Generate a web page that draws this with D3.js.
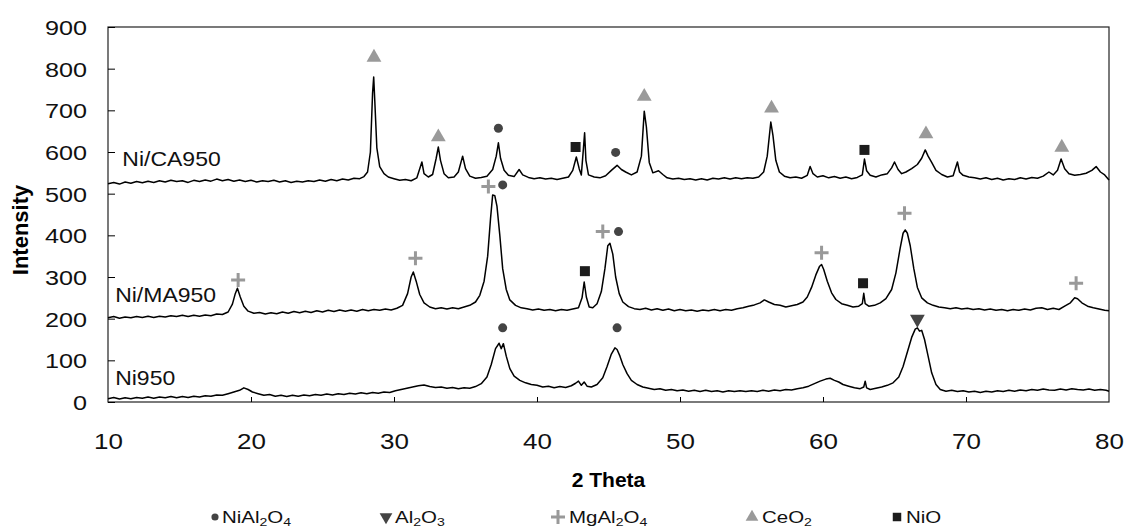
<!DOCTYPE html>
<html>
<head>
<meta charset="utf-8">
<script src="https://cdn.jsdelivr.net/npm/d3@7"></script>
<style>
  body { margin: 0; background: #fff; }
  svg { display: block; font-family: "Liberation Sans", Arial, sans-serif; }
</style>
</head>
<body>
<div id="chart"></div>
<script>
// XRD traces, [2 theta, intensity]
const niCA950 = [[10.0,524],[10.4,527],[10.8,523],[11.2,528],[11.6,525],[12.0,529],[12.4,526],[12.8,530],[13.2,527],[13.6,531],[14.0,528],[14.4,532],[14.8,529],[15.2,531],[15.6,527],[16.0,532],[16.4,529],[16.8,533],[17.2,530],[17.6,535],[18.0,531],[18.4,534],[18.8,530],[19.2,533],[19.6,529],[20.0,532],[20.4,528],[20.8,531],[21.2,529],[21.6,532],[22.0,528],[22.4,531],[22.8,527],[23.2,530],[23.6,528],[24.0,531],[24.4,529],[24.8,533],[25.2,530],[25.6,534],[26.0,531],[26.4,535],[26.8,533],[27.2,537],[27.6,536],[27.9,541],[28.15,552],[28.35,600],[28.5,740],[28.58,780],[28.66,720],[28.8,610],[29.0,565],[29.3,548],[29.6,540],[30.0,536],[30.4,532],[30.8,534],[31.2,531],[31.6,538],[31.95,576],[32.1,548],[32.4,540],[32.7,546],[32.95,585],[33.1,612],[33.25,580],[33.5,548],[33.8,538],[34.2,540],[34.5,552],[34.8,590],[35.0,560],[35.3,542],[35.7,537],[36.1,539],[36.5,542],[36.9,558],[37.15,590],[37.3,622],[37.45,585],[37.7,556],[38.0,544],[38.4,541],[38.75,558],[39.0,545],[39.4,539],[39.8,536],[40.2,538],[40.6,535],[41.0,537],[41.4,534],[41.8,537],[42.2,540],[42.5,556],[42.75,588],[42.95,560],[43.1,545],[43.25,610],[43.33,646],[43.42,580],[43.6,545],[44.0,540],[44.4,538],[44.8,543],[45.2,556],[45.6,568],[45.9,558],[46.2,552],[46.6,545],[47.0,552],[47.3,590],[47.5,698],[47.65,660],[47.85,575],[48.1,550],[48.5,555],[48.8,546],[49.1,538],[49.5,535],[49.9,537],[50.3,534],[50.7,536],[51.1,533],[51.5,536],[51.9,533],[52.3,537],[52.7,535],[53.1,538],[53.5,535],[53.9,538],[54.3,536],[54.7,538],[55.1,537],[55.5,540],[55.85,552],[56.1,590],[56.35,672],[56.5,640],[56.7,580],[56.95,552],[57.3,542],[57.7,538],[58.1,540],[58.5,537],[58.9,544],[59.1,565],[59.3,548],[59.6,540],[60.0,543],[60.4,538],[60.8,541],[61.2,537],[61.6,540],[62.0,536],[62.4,539],[62.75,545],[62.9,583],[63.05,555],[63.3,544],[63.7,540],[64.1,545],[64.5,548],[64.8,562],[65.0,576],[65.25,558],[65.5,548],[65.8,552],[66.2,560],[66.6,570],[66.9,585],[67.15,605],[67.35,590],[67.6,575],[67.9,556],[68.3,546],[68.7,540],[69.1,543],[69.4,576],[69.55,552],[69.8,544],[70.2,540],[70.6,538],[71.0,535],[71.4,538],[71.8,534],[72.2,537],[72.6,533],[73.0,536],[73.4,534],[73.8,538],[74.2,535],[74.6,539],[75.0,537],[75.4,542],[75.8,552],[76.1,545],[76.4,556],[76.65,583],[76.9,560],[77.2,548],[77.6,544],[78.0,546],[78.4,549],[78.8,556],[79.1,565],[79.4,552],[79.7,545],[80.0,533]];

const niMA950 = [[10.0,202],[10.4,205],[10.8,201],[11.2,204],[11.6,202],[12.0,205],[12.4,203],[12.8,206],[13.2,203],[13.6,206],[14.0,204],[14.4,207],[14.8,205],[15.2,208],[15.6,205],[16.0,208],[16.4,206],[16.8,209],[17.2,207],[17.6,211],[18.0,210],[18.4,216],[18.7,235],[18.9,260],[19.05,273],[19.25,252],[19.5,230],[19.8,218],[20.2,213],[20.6,215],[21.0,211],[21.4,214],[21.8,212],[22.2,216],[22.6,213],[23.0,217],[23.4,214],[23.8,218],[24.2,215],[24.6,219],[25.0,216],[25.4,220],[25.8,217],[26.2,221],[26.6,218],[27.0,221],[27.4,218],[27.8,222],[28.2,219],[28.6,222],[29.0,220],[29.4,223],[29.8,221],[30.2,225],[30.6,232],[30.95,260],[31.2,300],[31.35,312],[31.55,290],[31.8,258],[32.1,238],[32.5,228],[32.9,224],[33.3,226],[33.7,223],[34.1,226],[34.5,224],[34.9,228],[35.3,232],[35.7,240],[36.0,256],[36.3,290],[36.55,350],[36.75,440],[36.9,497],[37.05,495],[37.2,470],[37.4,400],[37.6,320],[37.85,270],[38.1,245],[38.5,232],[38.9,226],[39.3,224],[39.7,221],[40.1,223],[40.5,220],[40.9,222],[41.3,219],[41.7,222],[42.1,220],[42.5,223],[42.9,226],[43.15,250],[43.3,288],[43.45,252],[43.65,228],[43.9,226],[44.2,236],[44.5,265],[44.75,320],[44.95,375],[45.1,381],[45.3,355],[45.5,300],[45.75,260],[46.0,240],[46.4,229],[46.8,224],[47.2,222],[47.6,225],[48.0,221],[48.4,224],[48.8,220],[49.2,223],[49.6,219],[50.0,222],[50.4,219],[50.8,221],[51.2,218],[51.6,221],[52.0,219],[52.4,222],[52.8,219],[53.2,222],[53.6,220],[54.0,224],[54.4,226],[54.8,230],[55.2,233],[55.6,238],[55.9,245],[56.2,240],[56.6,234],[57.0,232],[57.4,228],[57.8,231],[58.2,234],[58.6,240],[58.9,252],[59.2,275],[59.5,305],[59.75,325],[59.9,330],[60.05,318],[60.3,290],[60.6,262],[60.9,246],[61.3,236],[61.7,232],[62.1,228],[62.5,230],[62.75,236],[62.85,261],[62.95,236],[63.2,230],[63.6,232],[64.0,238],[64.4,248],[64.8,270],[65.1,310],[65.4,370],[65.6,405],[65.75,413],[65.9,405],[66.1,375],[66.35,320],[66.6,275],[66.9,250],[67.3,238],[67.7,232],[68.1,228],[68.5,226],[68.9,224],[69.3,226],[69.7,223],[70.1,225],[70.5,222],[70.9,224],[71.3,221],[71.7,223],[72.1,220],[72.5,222],[72.9,219],[73.3,222],[73.7,220],[74.1,223],[74.5,221],[74.9,225],[75.3,226],[75.7,222],[76.1,225],[76.5,222],[76.9,230],[77.3,238],[77.6,250],[77.8,248],[78.1,238],[78.5,230],[78.9,226],[79.3,223],[79.7,220],[80.0,219]];

const ni950 = [[10.0,8],[10.4,11],[10.8,7],[11.2,10],[11.6,8],[12.0,11],[12.4,9],[12.8,12],[13.2,9],[13.6,12],[14.0,10],[14.4,13],[14.8,10],[15.2,13],[15.6,11],[16.0,14],[16.4,12],[16.8,15],[17.2,14],[17.6,17],[18.0,16],[18.4,20],[18.8,24],[19.2,28],[19.5,34],[19.8,30],[20.1,24],[20.5,20],[20.9,16],[21.3,18],[21.7,14],[22.1,16],[22.5,13],[22.9,16],[23.3,14],[23.7,17],[24.1,15],[24.5,18],[24.9,16],[25.3,19],[25.7,17],[26.1,20],[26.5,18],[26.9,21],[27.3,19],[27.7,22],[28.1,20],[28.5,23],[28.9,21],[29.3,24],[29.7,23],[30.1,27],[30.5,30],[30.9,33],[31.3,36],[31.7,39],[32.1,41],[32.5,37],[32.9,35],[33.3,36],[33.7,33],[34.1,35],[34.5,32],[34.9,34],[35.3,33],[35.7,37],[36.1,44],[36.5,60],[36.8,90],[37.1,128],[37.35,141],[37.5,128],[37.65,140],[37.85,110],[38.1,80],[38.4,62],[38.8,52],[39.2,46],[39.6,42],[40.0,40],[40.4,36],[40.8,38],[41.2,34],[41.6,37],[42.0,35],[42.4,39],[42.7,45],[42.9,50],[43.1,40],[43.3,48],[43.5,38],[43.8,36],[44.2,42],[44.6,58],[44.9,85],[45.2,115],[45.45,130],[45.6,126],[45.8,110],[46.0,90],[46.3,68],[46.6,52],[47.0,42],[47.4,36],[47.8,33],[48.2,30],[48.6,32],[49.0,28],[49.4,30],[49.8,27],[50.2,29],[50.6,26],[51.0,28],[51.4,25],[51.8,28],[52.2,25],[52.6,27],[53.0,24],[53.4,27],[53.8,25],[54.2,27],[54.6,25],[55.0,27],[55.4,25],[55.8,28],[56.2,26],[56.6,29],[57.0,27],[57.4,30],[57.8,29],[58.2,32],[58.6,34],[59.0,38],[59.4,44],[59.8,50],[60.2,55],[60.5,57],[60.8,52],[61.1,48],[61.4,42],[61.8,38],[62.2,34],[62.6,32],[62.85,36],[62.95,50],[63.05,34],[63.3,30],[63.7,33],[64.1,36],[64.5,40],[64.9,46],[65.3,60],[65.6,85],[65.9,120],[66.2,155],[66.45,175],[66.6,178],[66.75,170],[66.9,172],[67.1,150],[67.35,110],[67.6,70],[67.9,42],[68.2,30],[68.6,26],[69.0,28],[69.4,25],[69.8,27],[70.2,24],[70.6,26],[71.0,23],[71.4,26],[71.8,24],[72.2,27],[72.6,25],[73.0,28],[73.4,26],[73.8,29],[74.2,27],[74.6,30],[75.0,28],[75.4,31],[75.8,29],[76.2,28],[76.6,31],[77.0,29],[77.4,32],[77.8,30],[78.2,29],[78.6,31],[79.0,28],[79.4,30],[79.8,28],[80.0,26]];

const seriesNames = ["Ni/CA950", "Ni/MA950", "Ni950"];
const seriesLabelPos = [[11.0, 567], [10.5, 240], [10.5, 40]];

// phase markers, [2 theta, intensity of marker]
const markNiAl2O4 = [[37.3,657],[45.5,599],[37.6,521],[45.7,409],[37.6,178],[45.6,178]];
const markAl2O3 = [[66.6,199]];
const markMgAl2O4 = [[19.1,293],[31.5,345],[36.6,517],[44.6,409],[59.9,358],[65.7,453],[77.7,285]];
const markCeO2 = [[28.6,827],[33.1,636],[47.5,733],[56.4,705],[67.2,643],[76.7,611]];
const markNiO = [[42.7,612],[62.9,605],[43.35,314],[62.8,285]];

const xTicks = [10, 20, 30, 40, 50, 60, 70, 80];
const yTicks = [0, 100, 200, 300, 400, 500, 600, 700, 800, 900];

const W = 1125, H = 528;
const margin = {left: 108, right: 16, top: 27, bottom: 126};

const svg = d3.select("#chart").append("svg")
	.attr("width", W)
	.attr("height", H);

const x = d3.scaleLinear().domain([10, 80]).range([margin.left, W - margin.right]);
const y = d3.scaleLinear().domain([0, 900]).range([H - margin.bottom, margin.top]);

// frame
svg.append("rect")
	.attr("x", x(10)).attr("y", y(900))
	.attr("width", x(80) - x(10)).attr("height", y(0) - y(900))
	.attr("fill", "none").attr("stroke", "#222").attr("stroke-width", 1.2);

// axes, ticks pointing inward
const yAxis = svg.append("g")
	.attr("transform", `translate(${x(10)},0)`)
	.call(d3.axisLeft(y).tickValues(yTicks).tickSizeInner(-7).tickSizeOuter(0).tickPadding(0));
yAxis.select(".domain").remove();
yAxis.selectAll("text")
	.attr("x", null).attr("dy", "0.36em")
	.attr("transform", "translate(-21,0) scale(1.2,1)")
	.attr("font-size", 21).attr("font-family", "Liberation Sans").attr("fill", "#111");

const xAxis = svg.append("g")
	.attr("transform", `translate(0,${y(0)})`)
	.call(d3.axisBottom(x).tickValues(xTicks).tickSizeInner(-5).tickSizeOuter(0).tickPadding(0));
xAxis.select(".domain").remove();
xAxis.selectAll("text")
	.attr("y", null).attr("dy", null)
	.attr("transform", "translate(0,47) scale(1.18,1)")
	.attr("font-size", 22).attr("font-family", "Liberation Sans").attr("fill", "#111");
xAxis.selectAll(".tick").filter(d => d == 10 || d == 80).select("line").remove();

// axis titles
svg.append("text")
	.attr("transform", "translate(28,230) rotate(-90)")
	.attr("text-anchor", "middle")
	.attr("font-size", 22).attr("font-weight", "bold")
	.text("Intensity");

svg.append("text")
	.attr("x", (x(10) + x(80)) / 2).attr("y", 487)
	.attr("text-anchor", "middle")
	.attr("font-size", 21).attr("font-weight", "bold")
	.text("2 Theta");

// traces
const line = d3.line().x(d => x(d[0])).y(d => y(d[1]));

svg.append("g").selectAll("path")
	.data([niCA950, niMA950, ni950])
	.join("path")
	.attr("d", line)
	.attr("fill", "none")
	.attr("stroke", "#000")
	.attr("stroke-width", 1.5)
	.attr("stroke-linejoin", "round");

svg.append("g").selectAll("text")
	.data(seriesNames)
	.join("text")
	.attr("transform", (d, i) => `translate(${x(seriesLabelPos[i][0])},${y(seriesLabelPos[i][1])}) scale(1.15,1)`)
	.attr("font-size", 20)
	.attr("fill", "#111")
	.text(d => d);

// markers
const tri = d3.symbol().type(d3.symbolTriangle).size(95)();
const dot = d3.symbol().type(d3.symbolCircle).size(64)();
const sq = d3.symbol().type(d3.symbolSquare).size(100)();
const plus = "M-7,0H7M0,-7V7";

function drawMarks(data, path, fill, stroke, rot) {
	svg.append("g").selectAll("path")
		.data(data)
		.join("path")
		.attr("transform", d => `translate(${x(d[0])},${y(d[1])}) rotate(${rot})`)
		.attr("d", path)
		.attr("fill", fill)
		.attr("stroke", stroke)
		.attr("stroke-width", stroke == "none" ? 0 : 3);
}

drawMarks(markCeO2, tri, "#9a9a9a", "none", 0);
drawMarks(markNiAl2O4, dot, "#444", "none", 0);
drawMarks(markNiO, sq, "#1c1c1c", "none", 0);
drawMarks(markAl2O3, tri, "#444", "none", 180);
drawMarks(markMgAl2O4, plus, "none", "#999", 0);

// legend
const legendItems = [
	{sym: d3.symbol().type(d3.symbolCircle).size(40)(), fill: "#444", stroke: "none", rot: 0, sx: 215, tx: 222, parts: [["NiAl", 0], ["2", 1], ["O", 0], ["4", 1]]},
	{sym: d3.symbol().type(d3.symbolTriangle).size(70)(), fill: "#444", stroke: "none", rot: 180, sx: 386, tx: 395, parts: [["Al", 0], ["2", 1], ["O", 0], ["3", 1]]},
	{sym: "M-7,0H7M0,-7V7", fill: "none", stroke: "#999", rot: 0, sx: 558, tx: 569, parts: [["MgAl", 0], ["2", 1], ["O", 0], ["4", 1]]},
	{sym: d3.symbol().type(d3.symbolTriangle).size(70)(), fill: "#9a9a9a", stroke: "none", rot: 0, sx: 752, tx: 762, parts: [["CeO", 0], ["2", 1]]},
	{sym: d3.symbol().type(d3.symbolSquare).size(72)(), fill: "#1c1c1c", stroke: "none", rot: 0, sx: 897, tx: 906, parts: [["NiO", 0]]}
];

const legendY = 517;
const leg = svg.append("g");
legendItems.forEach(it => {
	leg.append("path")
		.attr("transform", `translate(${it.sx},${legendY}) rotate(${it.rot})`)
		.attr("d", it.sym)
		.attr("fill", it.fill)
		.attr("stroke", it.stroke)
		.attr("stroke-width", it.stroke == "none" ? 0 : 3);
	let t = leg.append("text")
		.attr("transform", `translate(${it.tx},${legendY + 6}) scale(1.28,1)`)
		.attr("font-size", 16)
		.attr("fill", "#111");
	it.parts.forEach(p => {
		t.append("tspan")
			.attr("font-size", p[1] ? 11 : 16)
			.attr("dy", p[1] ? 3 : (t.selectAll("tspan").size() > 1 ? -3 : 0))
			.text(p[0]);
	});
});
</script>
</body>
</html>
